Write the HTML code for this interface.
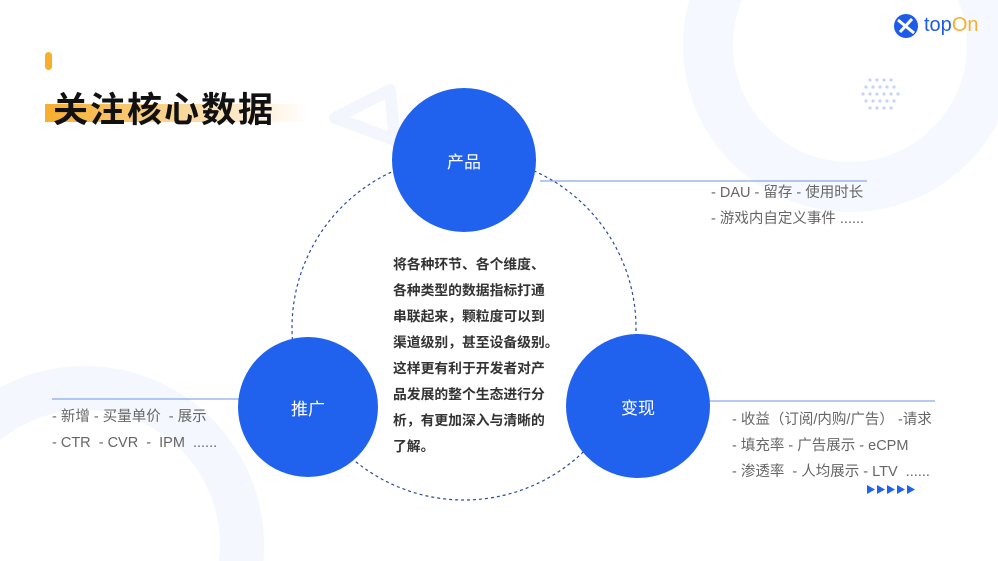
<!DOCTYPE html>
<html style="overflow:hidden"><head><meta charset="utf-8"><style>
html,body{margin:0;width:998px;height:561px;overflow:hidden}
body{background:#fff;position:relative;font-family:"Liberation Sans","Noto Sans CJK SC",sans-serif}
.a{position:absolute}
.t{color:#666;font-size:14.5px;white-space:pre;line-height:26px}
</style></head><body>
<svg class="a" style="left:0;top:0" width="998" height="561">
<circle cx="850" cy="45" r="142" fill="none" stroke="#f5f8fe" stroke-width="50"/>
<circle cx="85" cy="545" r="157" fill="none" stroke="#f4f7fe" stroke-width="44"/>
<path d="M335 118 L390 90 L395 140 Z" fill="none" stroke="#f3f6fc" stroke-width="12" stroke-linejoin="round"/>
<g fill="#c5d3f6">
<circle cx="870" cy="80" r="1.6"/><circle cx="877" cy="80" r="1.6"/><circle cx="884" cy="80" r="1.6"/><circle cx="891" cy="80" r="1.6"/>
<circle cx="866" cy="87" r="1.6"/><circle cx="873" cy="87" r="1.6"/><circle cx="880" cy="87" r="1.6"/><circle cx="887" cy="87" r="1.6"/><circle cx="894" cy="87" r="1.6"/>
<circle cx="863" cy="94" r="1.6"/><circle cx="870" cy="94" r="1.6"/><circle cx="877" cy="94" r="1.6"/><circle cx="884" cy="94" r="1.6"/><circle cx="891" cy="94" r="1.6"/><circle cx="898" cy="94" r="1.6"/>
<circle cx="866" cy="101" r="1.6"/><circle cx="873" cy="101" r="1.6"/><circle cx="880" cy="101" r="1.6"/><circle cx="887" cy="101" r="1.6"/><circle cx="894" cy="101" r="1.6"/>
<circle cx="870" cy="108" r="1.6"/><circle cx="877" cy="108" r="1.6"/><circle cx="884" cy="108" r="1.6"/><circle cx="891" cy="108" r="1.6"/>
</g>
<rect x="45" y="52" width="7" height="18" rx="3.5" fill="#f8ae2e"/>
<defs><linearGradient id="g" x1="0" x2="1"><stop offset="0" stop-color="#f8ae2e"/><stop offset="0.55" stop-color="#fbd9a0"/><stop offset="1" stop-color="#fff"/></linearGradient></defs>
<rect x="45" y="104" width="262" height="18" fill="url(#g)"/>
<circle cx="464" cy="328" r="172" fill="none" stroke="#2a4a9c" stroke-width="1.2" stroke-dasharray="3 3"/>
<line x1="540" y1="181" x2="867" y2="181" stroke="#8aa8ee" stroke-width="1.2"/>
<line x1="52" y1="399" x2="245" y2="399" stroke="#8aa8ee" stroke-width="1.2"/>
<line x1="705" y1="401" x2="935" y2="401" stroke="#8aa8ee" stroke-width="1.2"/>
<circle cx="464" cy="160" r="72" fill="#2062ee"/>
<circle cx="308" cy="407" r="70" fill="#2062ee"/>
<circle cx="638" cy="406" r="72" fill="#2062ee"/>
<g fill="#2062ee"><path d="M867 485l8 4.5-8 4.5z"/><path d="M877 485l8 4.5-8 4.5z"/><path d="M887 485l8 4.5-8 4.5z"/><path d="M897 485l8 4.5-8 4.5z"/><path d="M907 485l8 4.5-8 4.5z"/></g>
<circle cx="906" cy="26" r="12" fill="#1f5be8"/>
<path d="M898 20 L914 33 M912 19 L900 32" stroke="#fff" stroke-width="3"/>
</svg>
<div class="a" style="left:924px;top:14px;font-size:20px;color:#1f5be8">top<span style="color:#f8ae2e">On</span></div>
<div class="a" style="left:53px;top:82px;font-size:35px;font-weight:bold;color:#111;letter-spacing:2px">关注核心数据</div>
<div class="a" style="left:424px;top:148px;width:80px;text-align:center;color:#fff;font-size:17px">产品</div>
<div class="a" style="left:268px;top:395px;width:80px;text-align:center;color:#fff;font-size:17px">推广</div>
<div class="a" style="left:598px;top:394px;width:80px;text-align:center;color:#fff;font-size:17px">变现</div>
<div class="a" style="left:393px;top:252px;width:175px;font-size:13.8px;font-weight:bold;color:#333;line-height:26px">将各种环节、各个维度、<br>各种类型的数据指标打通<br>串联起来，颗粒度可以到<br>渠道级别，甚至设备级别。<br>这样更有利于开发者对产<br>品发展的整个生态进行分<br>析，有更加深入与清晰的<br>了解。</div>
<div class="a t" style="left:711px;top:180px">- DAU - 留存 - 使用时长
- 游戏内自定义事件 ......</div>
<div class="a t" style="left:52px;top:404px">- 新增 - 买量单价  - 展示
- CTR  - CVR  -  IPM  ......</div>
<div class="a t" style="left:732px;top:407px">- 收益（订阅/内购/广告） -请求
- 填充率 - 广告展示 - eCPM
- 渗透率  - 人均展示 - LTV  ......</div>
</body></html>
